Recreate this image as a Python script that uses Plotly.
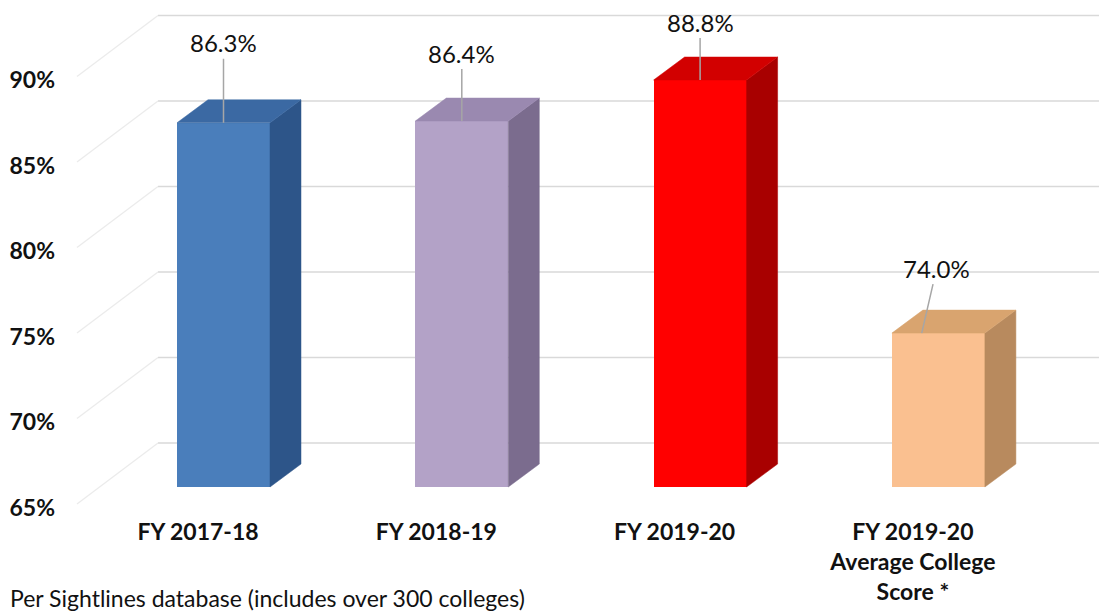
import plotly.graph_objects as go

# ---- data ----
categories = ["FY 2017-18", "FY 2018-19", "FY 2019-20",
              "FY 2019-20<br>Average College<br>Score *"]
values = [86.3, 86.4, 88.8, 74.0]
y_ticks = [65, 70, 75, 80, 85, 90]
y_tick_text = ["65%", "70%", "75%", "80%", "85%", "90%"]
footnote = "Per Sightlines database (includes over 300 colleges)"

# ---- styling ----
front_colors = ["#4a7ebb", "#b3a2c7", "#ff0000", "#fac090"]
top_colors = ["#3b69a3", "#9a89b0", "#d20000", "#d9a46f"]
side_colors = ["#2d5589", "#7b6c8e", "#a80000", "#b88a5e"]
label_offsets = [(0, -80), (0, -68), (0, -58), (15, -65)]
label_dx = [0, 0, 0, -0.07]

W, H = 1107, 614
OFF = 8                      # page body margin
Wp, Hp = W - OFF, H - OFF
BASE = 65
# front plane calibration (page pixels)
cat_px, x0_px = 238.3, 223.5
pct_px, y0_px = 17.1, 487
# label plane calibration
x0_lab, y0_lab, pct_lab = 198, 508, 17.12

x_range = [-(x0_px - OFF) / cat_px, (W - x0_px) / cat_px]
y_range = [BASE - (H - y0_px) / pct_px, BASE + (y0_px - OFF) / pct_px]
x2_range = [-(x0_lab - OFF) / cat_px, (W - x0_lab) / cat_px]
y2_range = [BASE - (H - y0_lab) / pct_lab, BASE + (y0_lab - OFF) / pct_lab]

bar_w = 93 / cat_px
dx, dy = 31 / cat_px, 23 / pct_px          # bar depth
wall_back_x = (158 - x0_px) / cat_px
wall_front_x = (77 - x0_px) / cat_px
back_off, front_off = 2.57, -1.0

fig = go.Figure()

# walls: back-wall gridlines and left-wall diagonals, kept under the bars
for t in y_ticks:
    fig.add_shape(type="line", layer="below", xref="x", yref="y",
                  x0=wall_back_x, x1=x_range[1], y0=t + back_off, y1=t + back_off,
                  line=dict(color="#d9d9d9", width=1.5))
    fig.add_shape(type="line", layer="below", xref="x", yref="y",
                  x0=wall_front_x, x1=wall_back_x, y0=t + front_off, y1=t + back_off,
                  line=dict(color="#ebebeb", width=1.2))

# 3D-looking bars: side and top faces, then front face
for i, v in enumerate(values):
    l, r = i - bar_w / 2, i + bar_w / 2
    fig.add_trace(go.Scatter(
        x=[r, r + dx, r + dx, r, r], y=[BASE, BASE + dy, v + dy, v, BASE],
        fill="toself", fillcolor=side_colors[i], mode="lines",
        line=dict(color=side_colors[i], width=0.5),
        hoverinfo="skip", showlegend=False))
    fig.add_trace(go.Scatter(
        x=[l, l + dx, r + dx, r, l], y=[v, v + dy, v + dy, v, v],
        fill="toself", fillcolor=top_colors[i], mode="lines",
        line=dict(color=top_colors[i], width=0.5),
        hoverinfo="skip", showlegend=False))

fig.add_trace(go.Bar(
    x=list(range(len(values))), y=[v - BASE for v in values], base=BASE,
    width=bar_w, marker=dict(color=front_colors, line=dict(width=0)),
    hoverinfo="skip", showlegend=False))

# empty trace so the label axes get drawn
fig.add_trace(go.Scatter(x=[None], y=[None], xaxis="x2", yaxis="y2",
                         showlegend=False, hoverinfo="skip"))

# data labels with leader lines
for i, v in enumerate(values):
    ax, ay = label_offsets[i]
    fig.add_annotation(
        x=i + label_dx[i], y=v, text=f"{v:.1f}%", showarrow=True,
        arrowhead=0, arrowwidth=1.5, arrowcolor="#a6a6a6", ax=ax, ay=ay,
        font=dict(family="Lato", size=24, color="#111111"))

fig.add_annotation(
    x=0, y=0, xref="paper", yref="paper",
    xanchor="left", yanchor="bottom", showarrow=False, text=footnote,
    font=dict(family="Lato", size=23, color="#111111"))

fig.update_layout(
    width=Wp, height=Hp,
    margin=dict(l=0, r=0, t=0, b=0),
    paper_bgcolor="white", plot_bgcolor="white",
    bargap=0,
    xaxis=dict(range=x_range, visible=False, fixedrange=True),
    yaxis=dict(range=y_range, visible=False, fixedrange=True),
    xaxis2=dict(range=x2_range, overlaying="x", anchor="free",
                position=(H - 516) / Hp, side="bottom",
                tickvals=list(range(len(categories))), ticktext=categories,
                showgrid=False, zeroline=False, showline=False, ticks="",
                tickfont=dict(family="Lato", size=23, color="#111111",
                              weight="bold"),
                fixedrange=True),
    yaxis2=dict(range=y2_range, overlaying="y", anchor="free",
                position=(55 - OFF) / Wp, side="left",
                tickvals=y_ticks, ticktext=y_tick_text,
                showgrid=False, zeroline=False, showline=False, ticks="",
                tickfont=dict(family="Lato", size=23, color="#111111",
                              weight="bold"),
                fixedrange=True),
    font=dict(family="Lato"),
)

fig.write_html("out.html")
